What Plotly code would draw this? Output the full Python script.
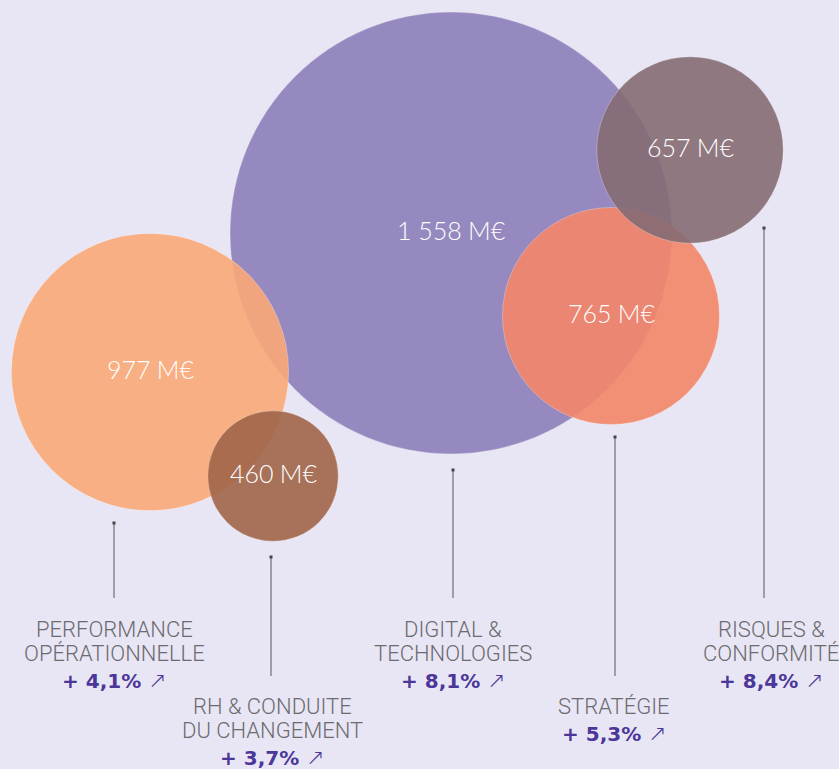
import plotly.graph_objects as go

# ---------------- data ----------------
categories = ["PERFORMANCE<br>OPÉRATIONNELLE", "RH & CONDUITE<br>DU CHANGEMENT",
              "DIGITAL &<br>TECHNOLOGIES", "STRATÉGIE", "RISQUES &<br>CONFORMITÉ"]
values_meur = [977, 460, 1558, 765, 657]
growth_pct = [4.1, 3.7, 8.1, 5.3, 8.4]

# ---------------- layout (pixel canvas) ----------------
W, H = 839, 769
BG = "#E8E6F4"
centers_x = [150, 273, 451, 611, 690]
centers_y = [372, 476, 233, 316, 150]
colors = ["rgba(249,168,119,0.9)", "rgba(161,101,73,0.9)", "rgba(141,126,185,0.9)",
          "rgba(243,134,104,0.9)", "rgba(133,108,115,0.9)"]
draw_order = [2, 0, 1, 3, 4]
line_x = [114, 271, 453, 615, 764]
line_top = [523, 557, 470, 437, 228]
line_bottom = [598, 676, 598, 676, 598]
label_x = [114, 272, 453, 614, 771]
label_y0 = [629, 706, 629, 706, 629]   # first line of name
LINE_GAP = 24
PCT_GAP = 27
MAX_DIAM = 442

def fmt_value(v):
    s = f"{v:,}".replace(",", " ")
    return s + "\u202fM€"

def fmt_pct(p):
    return "+ " + f"{p:.1f}".replace(".", ",") + "%"

fig = go.Figure()

ordered = draw_order
fig.add_trace(go.Scatter(
    x=[centers_x[i] for i in ordered],
    y=[centers_y[i] for i in ordered],
    mode="markers",
    marker=dict(
        size=[values_meur[i] for i in ordered],
        sizemode="diameter",
        sizeref=max(values_meur) / MAX_DIAM,
        color=[colors[i] for i in ordered],
        line=dict(width=0.8, color="rgba(255,255,255,0.35)"),
        opacity=1,
    ),
    hoverinfo="skip",
    showlegend=False,
))

# value labels at bubble centres
for i in range(len(values_meur)):
    fig.add_annotation(
        x=centers_x[i], y=centers_y[i], text=fmt_value(values_meur[i]),
        showarrow=False, xanchor="center", yanchor="middle", yshift=3,
        font=dict(family="Lato", size=25, color="white", weight=300),
    )

# leader lines
for i in range(len(categories)):
    fig.add_trace(go.Scatter(
        x=[line_x[i], line_x[i]], y=[line_top[i], line_bottom[i]],
        mode="lines", line=dict(color="#6E6E72", width=1.2),
        hoverinfo="skip", showlegend=False,
    ))
    fig.add_trace(go.Scatter(
        x=[line_x[i]], y=[line_top[i]], mode="markers",
        marker=dict(size=3, color="#444448", symbol="square"),
        hoverinfo="skip", showlegend=False,
    ))

# labels
for i, cat in enumerate(categories):
    lines = cat.split("<br>")
    for k, ln in enumerate(lines):
        fig.add_annotation(
            x=label_x[i], y=label_y0[i] + k * LINE_GAP, text=ln,
            showarrow=False, xanchor="center", yanchor="middle",
            font=dict(family="Roboto", size=22, color="#6B6B70", weight=300),
        )
    y_pct = label_y0[i] + (len(lines) - 1) * LINE_GAP + PCT_GAP
    fig.add_annotation(
        x=label_x[i], y=y_pct,
        text=fmt_pct(growth_pct[i]) + " <span style='font-weight:300;font-size:22px'>↗</span>",
        showarrow=False, xanchor="center", yanchor="middle",
        font=dict(family="DejaVu Sans", size=20, color="#4A3799", weight=800),
    )

fig.update_layout(
    width=W, height=H,
    margin=dict(l=0, r=0, t=0, b=0),
    paper_bgcolor=BG, plot_bgcolor=BG,
    xaxis=dict(range=[0, W], visible=False, fixedrange=True),
    yaxis=dict(range=[H, 0], visible=False, fixedrange=True),
    showlegend=False,
)

fig.write_html(
    "out.html",
    config={"displayModeBar": False},
    post_script="document.body.style.margin='0';document.body.style.background='" + BG + "';",
)
